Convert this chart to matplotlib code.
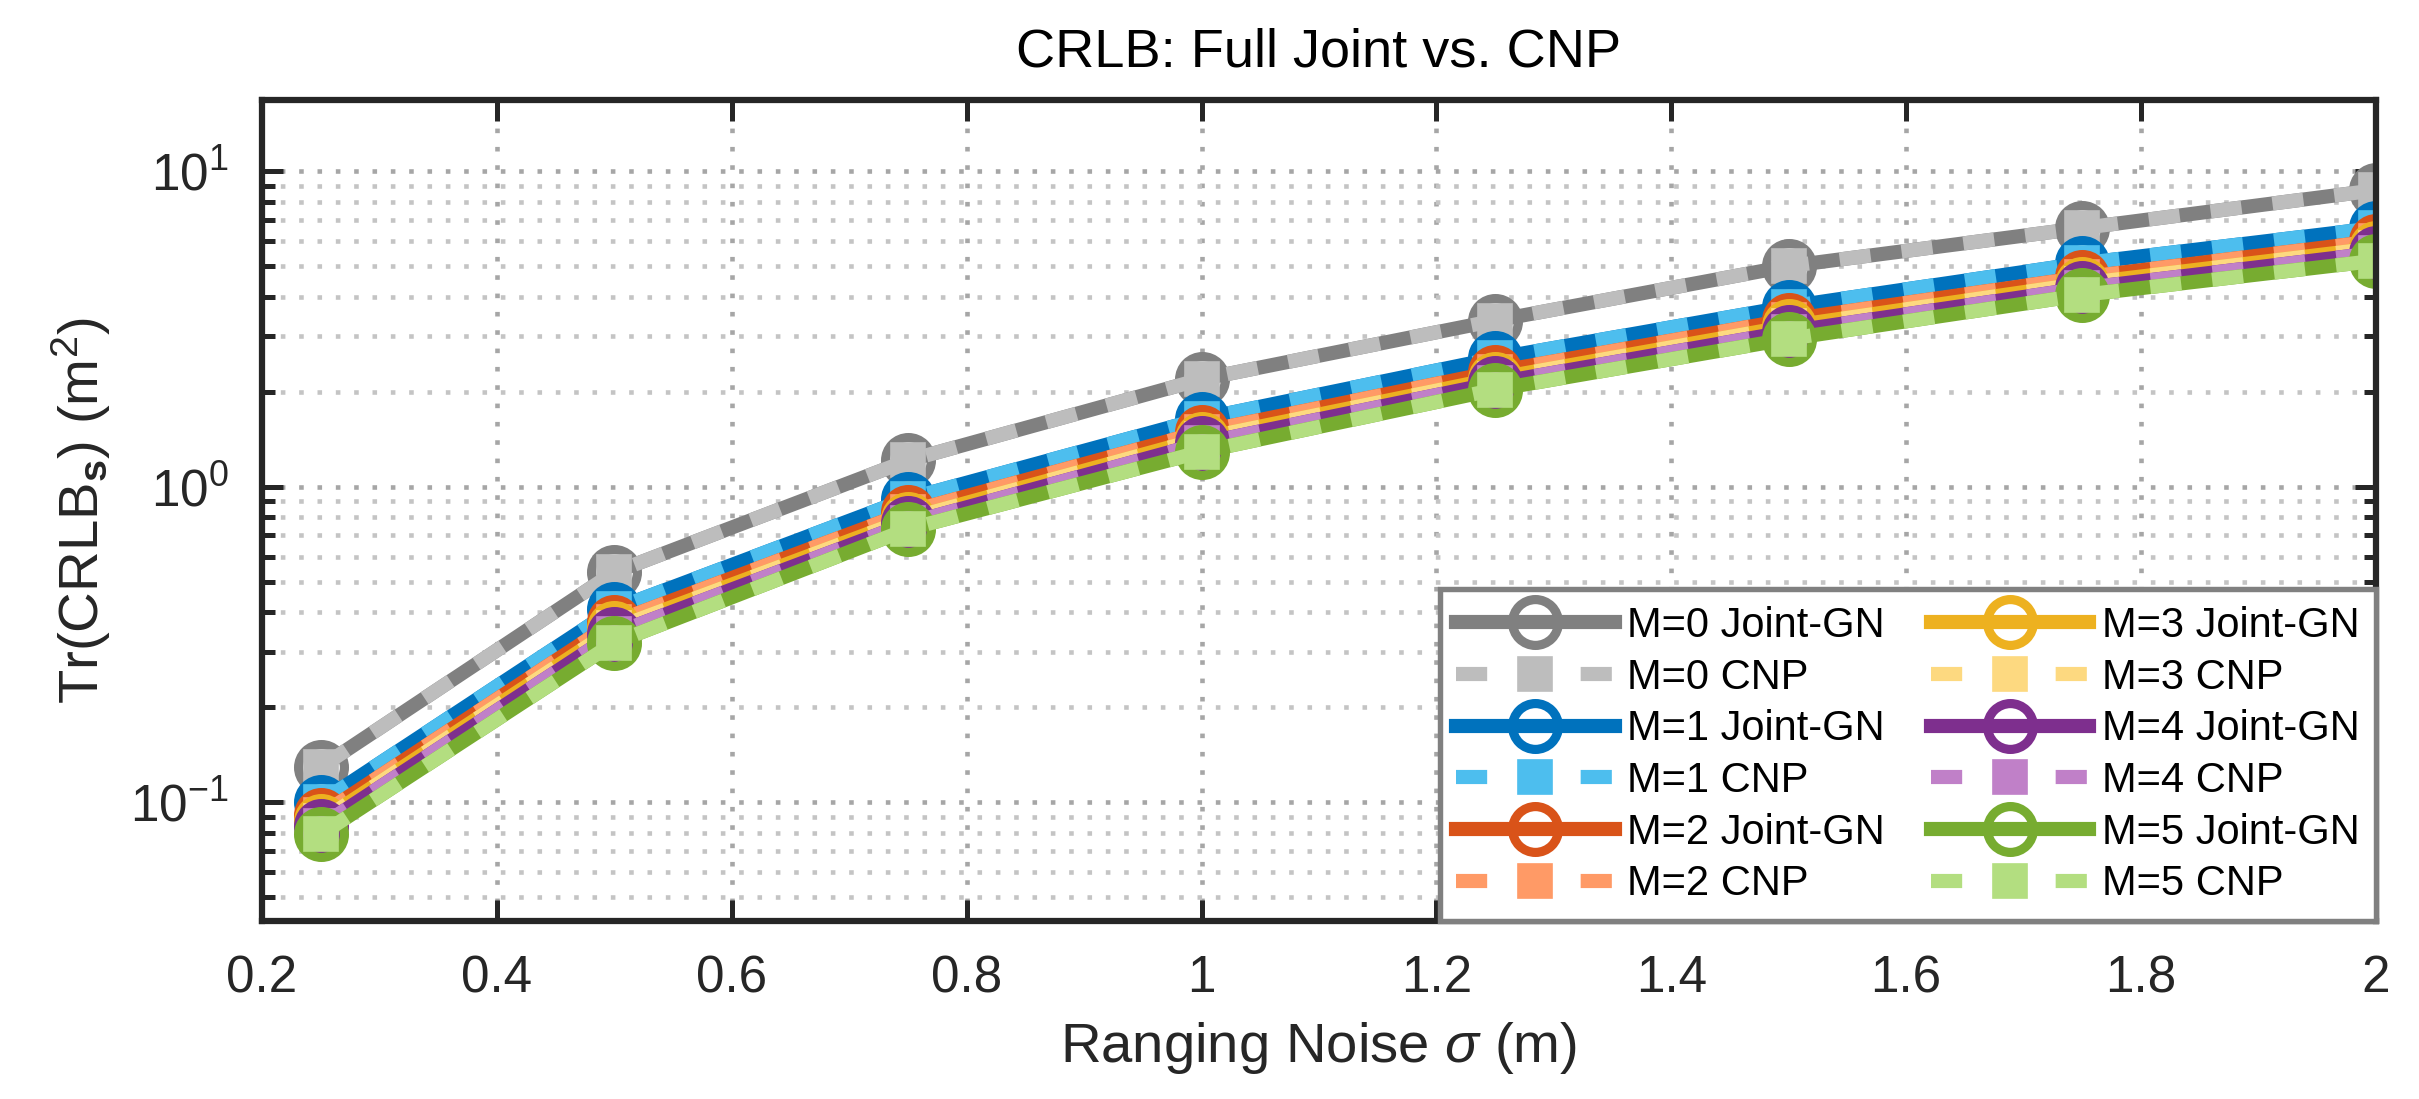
import numpy as np
import matplotlib
matplotlib.use('Agg')
import matplotlib.pyplot as plt

plt.rcParams['font.family'] = ['Liberation Sans', 'DejaVu Sans']
plt.rcParams['mathtext.fontset'] = 'custom'
plt.rcParams['mathtext.rm'] = 'Liberation Sans'
plt.rcParams['mathtext.it'] = 'Liberation Sans:italic'
plt.rcParams['mathtext.bf'] = 'Liberation Sans:bold'

# ranging noise sigma (m)
sigma = [0.25, 0.5, 0.75, 1.0, 1.25, 1.5, 1.75, 2.0]

# Tr(CRLB_s) for each number of M, joint-GN and CNP
joint_m0 = [0.129, 0.535, 1.21, 2.19, 3.36, 5.00, 6.60, 8.70]
joint_m1 = [0.100, 0.409, 0.915, 1.64, 2.55, 3.72, 5.10, 6.60]
joint_m2 = [0.091, 0.372, 0.830, 1.49, 2.31, 3.38, 4.60, 6.00]
joint_m3 = [0.087, 0.355, 0.790, 1.42, 2.20, 3.22, 4.40, 5.70]
joint_m4 = [0.084, 0.342, 0.765, 1.37, 2.13, 3.10, 4.25, 5.50]
joint_m5 = [0.079, 0.320, 0.733, 1.29, 2.03, 2.94, 4.05, 5.20]

cnp_m0 = [0.129, 0.535, 1.21, 2.19, 3.36, 5.00, 6.60, 8.70]
cnp_m1 = [0.100, 0.409, 0.915, 1.64, 2.55, 3.72, 5.10, 6.60]
cnp_m2 = [0.091, 0.372, 0.830, 1.49, 2.31, 3.38, 4.60, 6.00]
cnp_m3 = [0.087, 0.355, 0.790, 1.42, 2.20, 3.22, 4.40, 5.70]
cnp_m4 = [0.084, 0.342, 0.765, 1.37, 2.13, 3.10, 4.25, 5.50]
cnp_m5 = [0.079, 0.320, 0.733, 1.29, 2.03, 2.94, 4.05, 5.20]

joint_all = [joint_m0, joint_m1, joint_m2, joint_m3, joint_m4, joint_m5]
cnp_all = [cnp_m0, cnp_m1, cnp_m2, cnp_m3, cnp_m4, cnp_m5]

joint_colors = ['#808080', '#0072BD', '#D95319', '#EDB120', '#7E2F8E', '#77AC30']
cnp_colors = ['#BDBDBD', '#4DBEEE', '#FF9A66', '#FDD980', '#C080C8', '#B3DE80']

fig = plt.figure(figsize=(2419 / 300, 1099 / 300), dpi=300)
ax = fig.add_axes([0.1083, 0.162, 0.8739, 0.747])

for m in range(6):
    ax.plot(sigma, joint_all[m], '-', color=joint_colors[m], lw=3.4,
            marker='o', ms=11, mew=2.2, mfc='none', mec=joint_colors[m],
            label=f'M={m} Joint-GN')
    ax.plot(sigma, cnp_all[m], '--', color=cnp_colors[m], lw=3.4,
            dashes=(2.2, 2.2), marker='s', ms=8.0, mew=0.4,
            mfc=cnp_colors[m], mec=cnp_colors[m], label=f'M={m} CNP')

ax.set_yscale('log')
ax.set_xlim(0.2, 2)
ax.set_ylim(0.042, 16.8)
ax.set_xticks(np.arange(0.2, 2.01, 0.2))
ax.set_xticklabels(['0.2', '0.4', '0.6', '0.8', '1', '1.2', '1.4', '1.6', '1.8', '2'])

ax.grid(True, which='major', ls=(0, (1, 3)), color='#a6a6a6', lw=1.1)
ax.grid(True, which='minor', axis='y', ls=(0, (1, 3)), color='#c4c4c4', lw=1.1)
ax.set_axisbelow(True)

for s in ax.spines.values():
    s.set_linewidth(1.5)
    s.set_color('#262626')
ax.tick_params(which='both', direction='in', top=True, right=True,
               colors='#262626', labelsize=12.3, width=1.2, pad=8)
ax.tick_params(which='major', length=5)
ax.tick_params(which='minor', length=3)

ax.set_title('CRLB: Full Joint vs. CNP', fontsize=13, pad=8)
ax.set_xlabel(r'Ranging Noise $\sigma$ (m)', fontsize=13.5, color='#262626')
ax.set_ylabel(r'Tr(CRLB$_{\mathbf{s}}$) (m$^{2}$)', fontsize=13.5, color='#262626')

leg = ax.legend(loc='lower right', ncol=2, fontsize=10, borderaxespad=0,
                handlelength=3.8, handletextpad=0.3, columnspacing=1.1,
                labelspacing=0.28, fancybox=False, framealpha=1,
                edgecolor='#808080', borderpad=0.4)
leg.get_frame().set_linewidth(1.3)

fig.savefig('out.png', dpi=300)
